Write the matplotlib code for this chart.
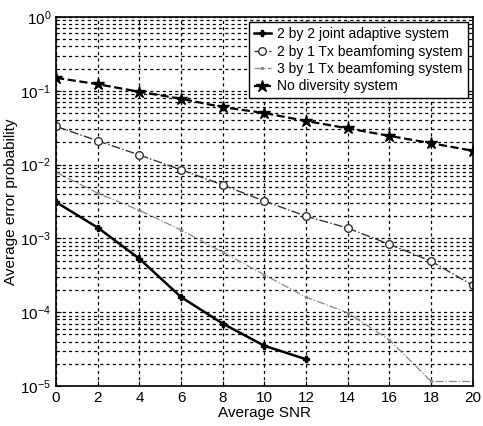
import numpy as np
import matplotlib.pyplot as plt

plt.rcParams['font.family'] = ['Liberation Sans Narrow', 'Liberation Sans', 'DejaVu Sans']

snr = [0, 2, 4, 6, 8, 10, 12, 14, 16, 18, 20]
joint_2x2 = [3.1e-3, 1.4e-3, 5.3e-4, 1.6e-4, 7.0e-5, 3.5e-5, 2.3e-5]
tx_2x1 = [3.3e-2, 2.1e-2, 1.35e-2, 8.5e-3, 5.3e-3, 3.2e-3, 2.0e-3, 1.38e-3, 8.3e-4, 4.9e-4, 2.3e-4]
tx_3x1 = [7.9e-3, 4.1e-3, 2.4e-3, 1.3e-3, 6.5e-4, 3.2e-4, 1.6e-4, 9.8e-5, 4.2e-5, 1.15e-5, 1.15e-5]
no_div = [0.15, 0.123, 0.097, 0.078, 0.060, 0.050, 0.039, 0.031, 0.0245, 0.0195, 0.0154]

xticks = list(range(0, 21, 2))


def main():
    fig = plt.figure(figsize=(4.83, 4.26), dpi=100)
    ax = fig.add_axes([0.116, 0.094, 0.863, 0.866])

    ax.semilogy(snr[:len(joint_2x2)], joint_2x2, '-', color='black', lw=1.8,
                marker='P', ms=5, label='2 by 2 joint adaptive system')
    ax.semilogy(snr, tx_2x1, '-.', color='#333333', lw=1.0, marker='o', ms=5.5,
                mfc='white', mec='#333333', label='2 by 1 Tx beamfoming system')
    ax.semilogy(snr, tx_3x1, '-.', color='#888888', lw=0.9, marker='.', ms=3,
                label='3 by 1 Tx beamfoming system')
    ax.semilogy(snr, no_div, '--', color='black', lw=1.6, marker='*', ms=9,
                label='No diversity system')

    ax.set_xlim(0, 20)
    ax.set_ylim(1e-5, 1)
    ax.set_xticks(xticks)
    ax.grid(True, which='major', color='black', linestyle=(0, (2.5, 2.5)), lw=0.9)
    ax.grid(True, which='minor', axis='y', color='black', linestyle=(0, (2.5, 2.5)), lw=0.9)
    ax.tick_params(which='both', direction='in', labelsize=11)
    ax.tick_params(which='minor', length=2)
    for s in ax.spines.values():
        s.set_linewidth(1.2)

    ax.set_xlabel('Average SNR', fontsize=11, labelpad=1)
    ax.set_ylabel('Average error probability', fontsize=11, labelpad=2)

    leg = ax.legend(loc='upper right', bbox_to_anchor=(0.988, 0.986), borderaxespad=0,
                    fontsize=10, fancybox=False, framealpha=1, edgecolor='black',
                    handlelength=1.2, handletextpad=0.5, borderpad=0.35, labelspacing=0.25)
    leg.get_frame().set_linewidth(1.0)

    fig.savefig('out.png', dpi=100)


if __name__ == '__main__':
    main()
